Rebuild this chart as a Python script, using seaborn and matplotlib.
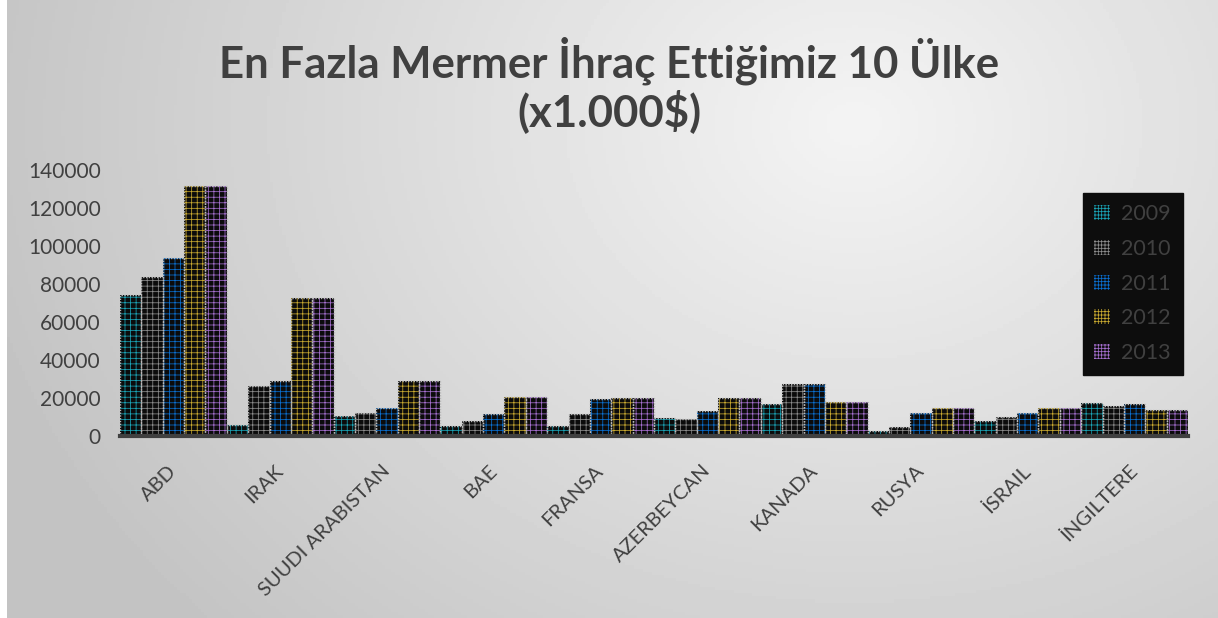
import numpy as np
import pandas as pd
import matplotlib
matplotlib.use("Agg")
import matplotlib.pyplot as plt
import matplotlib.patches as mpatches
import seaborn as sns

# data (x1.000$)
countries = ["ABD", "IRAK", "SUUDI ARABISTAN", "BAE", "FRANSA",
             "AZERBEYCAN", "KANADA", "RUSYA", "İSRAIL", "İNGILTERE"]
years = ["2009", "2010", "2011", "2012", "2013"]
v2009 = [74000, 5800, 10700, 5400, 5400, 9600, 16700, 2800, 8000, 17200]
v2010 = [83800, 26500, 12300, 8000, 11700, 9100, 27500, 4900, 9800, 15800]
v2011 = [93800, 29100, 14900, 11700, 19600, 13300, 27600, 11900, 11900, 16800]
v2012 = [131700, 72400, 28700, 20500, 20100, 20100, 18000, 14600, 14600, 13500]
v2013 = [131700, 72400, 28700, 20500, 20100, 20100, 18000, 14600, 14600, 13500]
y_ticks = [0, 20000, 40000, 60000, 80000, 100000, 120000, 140000]

colors = ["#1aa3b5", "#8c8c8c", "#0a6fd0", "#c9a930", "#a56fcf"]
text_col = "#404040"

rows = []
for yr, vals in zip(years, [v2009, v2010, v2011, v2012, v2013]):
    for c, v in zip(countries, vals):
        rows.append({"ulke": c, "yil": yr, "deger": v})
df = pd.DataFrame(rows)

sns.set_style("white")
plt.rcParams["font.family"] = ["Lato", "DejaVu Sans"]
plt.rcParams["hatch.linewidth"] = 0.55

fig = plt.figure(figsize=(12.18, 6.18), dpi=100)
fig.patch.set_facecolor("white")

# gray radial gradient background like the office chart style
bg = fig.add_axes([7 / 1218, 0, 1 - 7 / 1218, 1], zorder=-10)
gx, gy = np.meshgrid(np.linspace(0, 1, 400), np.linspace(0, 1, 200))
dist = np.sqrt(((gx - 0.7) * 1.6) ** 2 + ((gy - 0.2) * 1.0) ** 2)
shade = 0.955 - 0.19 * np.clip(dist, 0, 1.2) / 1.2
bg.imshow(shade, cmap="gray", vmin=0, vmax=1, aspect="auto", extent=[0, 1, 1, 0])
bg.set_axis_off()

ax = fig.add_axes([120 / 1218, 1 - 436 / 618, 1068 / 1218, 266 / 618])
ax.patch.set_alpha(0)

sns.barplot(data=df, x="ulke", y="deger", hue="yil", palette=colors,
            width=1.0, gap=0, saturation=1, ax=ax, legend=False)

for i, cont in enumerate(ax.containers):
    for bar in cont:
        bar.set_facecolor("#0b0b0b")
        bar.set_edgecolor(colors[i])
        bar.set_hatch("+++")
        bar.set_linewidth(0)
        # light dotted outline on top of the patterned bar
        ax.add_patch(mpatches.Rectangle(bar.get_xy(), bar.get_width(), bar.get_height(),
                                        fill=False, edgecolor="#b8b8b8", linewidth=1.0,
                                        linestyle=(0, (1, 1)), zorder=bar.get_zorder() + 0.1))

ax.set_xlim(-0.5, len(countries) - 0.5)
ax.set_ylim(0, 140000)
ax.set_yticks(y_ticks)
ax.set_yticklabels([str(t) for t in y_ticks])
ax.set_xlabel("")
ax.set_ylabel("")
ax.tick_params(axis="y", length=0, pad=14, labelsize=15, labelcolor=text_col)
ax.tick_params(axis="x", length=0, pad=23, labelsize=14.5, labelcolor=text_col)
for lab in ax.get_xticklabels():
    lab.set_rotation(45)
    lab.set_ha("right")
    lab.set_va("center")
    lab.set_rotation_mode("anchor")

for s in ["top", "right", "left"]:
    ax.spines[s].set_visible(False)
ax.spines["bottom"].set_color(text_col)
ax.spines["bottom"].set_linewidth(3)
ax.spines["bottom"].set_zorder(5)

handles = [mpatches.Patch(facecolor="#0b0b0b", edgecolor=c, hatch="+++++", linewidth=0)
           for c in colors]
leg = ax.legend(handles, years, loc="upper left", bbox_to_anchor=(968 / 1068, 238 / 266),
                frameon=True, fancybox=False, fontsize=15.5, labelspacing=0.68,
                handlelength=0.7, handleheight=0.7, handletextpad=0.55,
                borderpad=0.3, borderaxespad=0)
leg.get_frame().set_facecolor("#0d0d0d")
leg.get_frame().set_edgecolor("#0d0d0d")
leg.get_frame().set_alpha(1)
leg.get_frame().set_boxstyle("square", pad=0.25)
for t in leg.get_texts():
    t.set_color(text_col)

fig.text(0.5, 1 - 85 / 618, "En Fazla Mermer İhraç Ettiğimiz 10 Ülke\n(x1.000$)",
         ha="center", va="center", fontsize=31.5, fontweight="bold",
         color=text_col, linespacing=1.1)

fig.savefig("out.png", dpi=100)
